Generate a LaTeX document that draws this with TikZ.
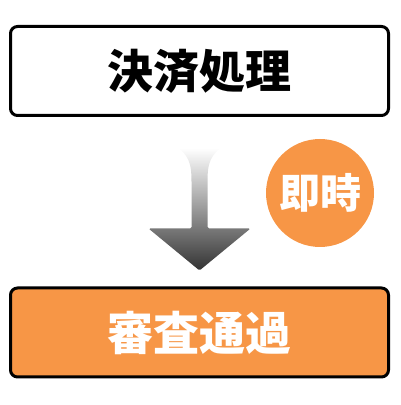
\documentclass[tikz,border=0pt]{standalone}
\usepackage{fontspec}
\newfontfamily\jpfont{Noto Sans CJK JP}
\usetikzlibrary{calc}
\definecolor{orangefill}{HTML}{F79646}
\begin{document}
\begin{tikzpicture}[x=1pt,y=1pt,
  box/.style={draw=black,line width=3pt,rounded corners=7pt,
    minimum width=378pt,minimum height=89pt,inner sep=0pt,
    font=\jpfont\bfseries\fontsize{46}{50}\selectfont},
  badge/.style={circle,fill=orangefill,minimum size=108pt,inner sep=0pt,
    text=white,font=\jpfont\bfseries\fontsize{41}{45}\selectfont}]
\useasboundingbox (0,0) rectangle (400,405);

\node[box,fill=white] (payment) at (199.5,334) {決済処理};
\node[box,fill=orangefill,text=white] (approved) at (199.5,72.5) {審査通過};
\node[badge] (instant) at (320,212) {即時};

\coordinate (tip) at ($(approved.north)+(0,16)$);
\coordinate (tail) at ($(payment.south)+(0,-31)$);

\shade[top color=white,middle color=black!30,bottom color=black!80,rounded corners=1.5pt]
  ($(tail)+(-21,0)$) .. controls ($(tail)+(-9,-10)$) and ($(tail)+(-8,-20)$) .. ($(tail)+(-8,-35)$)
  -- ($(tip)+(-8,42)$) -- ($(tip)+(-51,42)$) -- (tip) -- ($(tip)+(51,42)$) -- ($(tip)+(8,42)$)
  -- ($(tail)+(8,-35)$) .. controls ($(tail)+(8,-20)$) and ($(tail)+(9,-10)$) .. ($(tail)+(21,0)$) -- cycle;
\end{tikzpicture}
\end{document}
